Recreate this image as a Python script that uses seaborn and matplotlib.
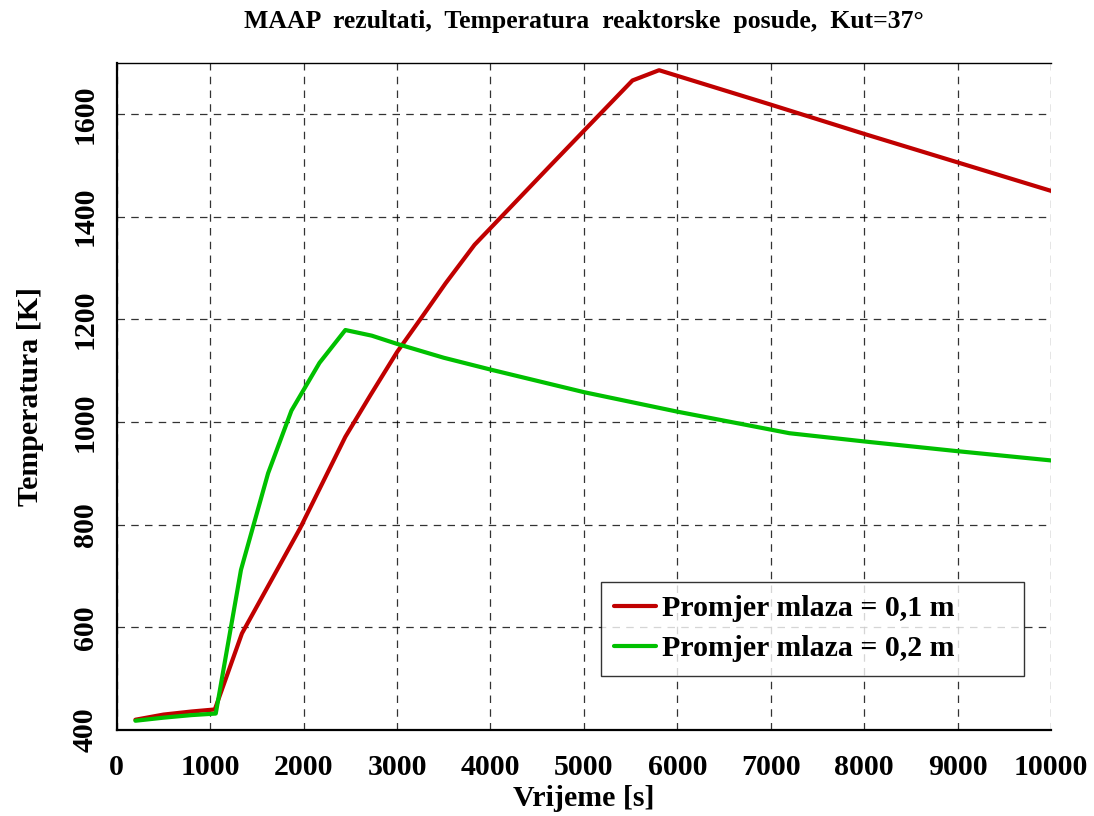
import seaborn as sns
import matplotlib.pyplot as plt
import pandas as pd

# podaci ocitani s grafa
t_01 = [200, 500, 800, 1050, 1340, 1960, 2447, 2715, 3000, 3250, 3520, 3830, 4645, 5000, 5520, 5805, 7000, 8000, 10000]
T_01 = [420, 430, 436, 440, 588, 792, 971, 1052, 1136, 1200, 1270, 1345, 1500, 1567, 1665, 1685, 1618, 1561, 1450]

t_02 = [200, 500, 800, 1060, 1330, 1620, 1870, 2170, 2447, 2730, 3000, 3500, 4000, 5000, 6000, 7200, 8000, 9000, 10000]
T_02 = [418, 424, 429, 432, 712, 900, 1022, 1115, 1179, 1168, 1152, 1125, 1102, 1058, 1020, 978, 962, 943, 925]

labels = ['Promjer mlaza = 0,1 m', 'Promjer mlaza = 0,2 m']
colors = ['#c00000', '#00c000']

df = pd.concat([
    pd.DataFrame({'t': t_01, 'T': T_01, 'serija': labels[0]}),
    pd.DataFrame({'t': t_02, 'T': T_02, 'serija': labels[1]}),
])

sns.set_style('white')
plt.rcParams['font.family'] = ['Liberation Serif', 'DejaVu Serif']
plt.rcParams['font.weight'] = 'bold'
plt.rcParams['text.color'] = 'black'
plt.rcParams['axes.labelcolor'] = 'black'
plt.rcParams['xtick.color'] = 'black'
plt.rcParams['ytick.color'] = 'black'

fig = plt.figure(figsize=(10.94, 8.16), dpi=100)
ax = fig.add_axes([0.1067, 0.1054, 0.854, 0.818])

sns.lineplot(data=df, x='t', y='T', hue='serija', palette=colors, linewidth=3,
             sort=False, estimator=None, ax=ax)

ax.set_xlim(0, 10000)
ax.set_ylim(400, 1700)
ax.set_xticks(range(0, 10001, 1000))
ax.set_yticks(range(400, 1601, 200))
ax.grid(True, color='black', linestyle=(0, (6, 5)), linewidth=0.9, alpha=0.8)

for s in ['left', 'bottom']:
    ax.spines[s].set_linewidth(1.6)
    ax.spines[s].set_color('black')
ax.spines['top'].set_linewidth(1.0)
ax.spines['top'].set_color('black')
ax.spines['right'].set_visible(False)

ax.tick_params(axis='both', direction='out', length=8, width=1.2, color='black',
               labelsize=21.5, pad=5)
ax.tick_params(axis='x', pad=9)
for lab in ax.get_yticklabels():
    lab.set_rotation(90)
    lab.set_va('center')
for lab in ax.get_xticklabels() + ax.get_yticklabels():
    lab.set_fontweight('bold')

ax.set_xlabel('Vrijeme [s]', fontsize=21.5, fontweight='bold', labelpad=3)
ax.set_ylabel('Temperatura [K]', fontsize=21.5, fontweight='bold', labelpad=20)
ax.set_title('MAAP  rezultati,  Temperatura  reaktorske  posude,  Kut=37°',
             fontsize=18.5, fontweight='bold', pad=25)

leg = ax.legend(loc='lower left', bbox_to_anchor=(0.518, 0.081, 0.453, 0.14),
                mode='expand', fontsize=21.5, frameon=True, fancybox=False,
                edgecolor='black', handlelength=1.4, handletextpad=0.2,
                borderpad=0.45, labelspacing=0.45, borderaxespad=0)
leg.get_frame().set_linewidth(1.0)
for txt in leg.get_texts():
    txt.set_fontweight('bold')

fig.savefig('out.png', dpi=100)
